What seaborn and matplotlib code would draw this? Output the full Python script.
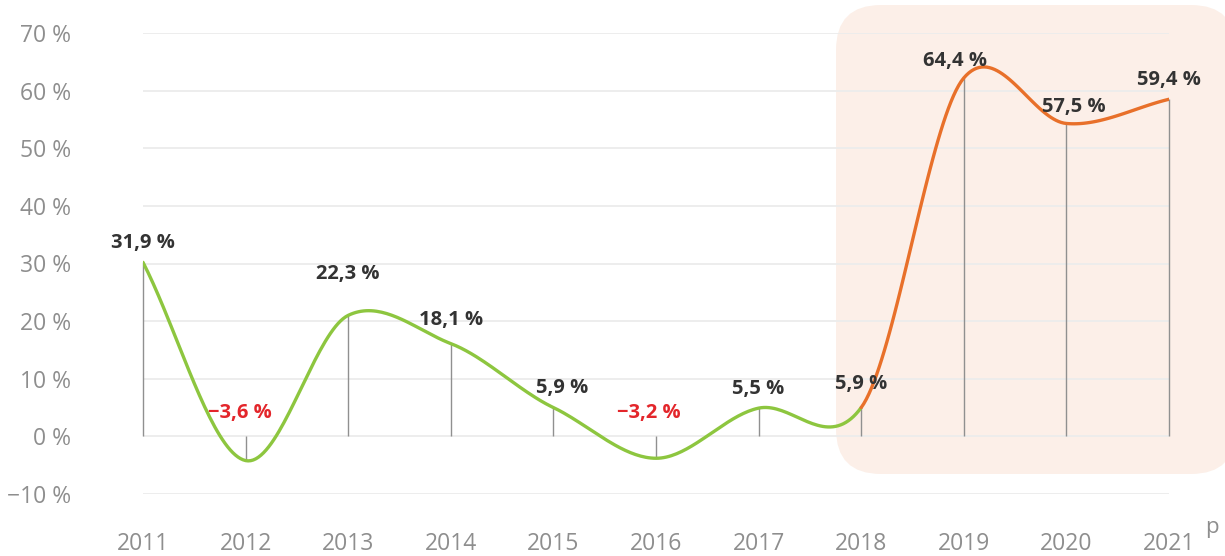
import numpy as np
import pandas as pd
import matplotlib
matplotlib.use("Agg")
import matplotlib.pyplot as plt
import seaborn as sns
from matplotlib.patches import FancyBboxPatch

# data
years = [2011, 2012, 2013, 2014, 2015, 2016, 2017, 2018, 2019, 2020, 2021]
# curve heights as drawn in the picture
growth = [30.2, -4.2, 21.0, 16.1, 5.0, -3.8, 4.9, 5.0, 62.2, 54.3, 58.5]
# printed labels
label_text = ["31,9 %", "-3,6 %", "22,3 %", "18,1 %", "5,9 %", "-3,2 %",
              "5,5 %", "5,9 %", "64,4 %", "57,5 %", "59,4 %"]
ytick_vals = [-10, 0, 10, 20, 30, 40, 50, 60, 70]
ytick_labels = ["\u221210 %", "0 %", "10 %", "20 %", "30 %", "40 %",
                "50 %", "60 %", "70 %"]
split_year = 2018

GREEN = "#8dc63f"
ORANGE = "#e8702a"
HILITE = "#fcefe8"
TXT = "#333333"
RED = "#e3262b"
TICK = "#8e8e8e"

W, H = 1225, 556

sns.set_theme(style="white")
plt.rcParams['font.family'] = ['Open Sans', 'DejaVu Sans']


def smooth(xs, ys, n=40, tension=0.85):
    # cubic hermite with catmull-rom tangents, only for drawing the curve
    xs = np.asarray(xs, float); ys = np.asarray(ys, float)
    m = np.zeros_like(ys)
    m[1:-1] = (ys[2:] - ys[:-2]) / (xs[2:] - xs[:-2]) * tension
    m[0] = ys[1] - ys[0]
    m[-1] = ys[-1] - ys[-2]
    out_x, out_y = [], []
    for i in range(len(xs) - 1):
        h = xs[i + 1] - xs[i]
        t = np.linspace(0, 1, n, endpoint=False)
        h00 = 2*t**3 - 3*t**2 + 1
        h10 = t**3 - 2*t**2 + t
        h01 = -2*t**3 + 3*t**2
        h11 = t**3 - t**2
        out_x.extend(xs[i] + t*h)
        out_y.extend(h00*ys[i] + h10*h*m[i] + h01*ys[i+1] + h11*h*m[i+1])
    out_x.append(xs[-1]); out_y.append(ys[-1])
    return np.array(out_x), np.array(out_y)


cx, cy = smooth(years, growth)
curve = pd.DataFrame({"year": cx, "value": cy})

fig = plt.figure(figsize=(W/100, H/100), dpi=100)
ax = fig.add_axes([143/W, 62/H, 1026/W, 461/H])
ax.set_facecolor("none")

# highlighted forecast zone, placed in figure space so the corners stay round
hl = FancyBboxPatch((836/W, 82/H), 400/W, 469/H,
                    boxstyle="round,pad=0,rounding_size=%f" % (45/W),
                    mutation_aspect=W/H, transform=fig.transFigure,
                    facecolor=HILITE, edgecolor="none", zorder=0,
                    clip_on=False)
ax.add_patch(hl)

# drop lines from zero to the curve
ax.vlines(years, [min(0, v) for v in growth], [max(0, v) for v in growth],
          color="#909090", lw=1, zorder=2, clip_on=False)

hist = curve[curve["year"] <= split_year]
proj = curve[curve["year"] >= split_year - 0.001]
sns.lineplot(data=hist, x="year", y="value", color=GREEN, lw=2.4, ax=ax,
             zorder=3, sort=False, estimator=None)
sns.lineplot(data=proj, x="year", y="value", color=ORANGE, lw=2.4, ax=ax,
             zorder=3, sort=False, estimator=None)

# value labels
extra_dy = {2013: 16, 2014: 3, 2018: 3, 2019: -2, 2020: -2}
extra_dx = {2012: -4, 2015: 6, 2016: -5, 2019: -6, 2020: 5}
for yr, v, s in zip(years, growth, label_text):
    neg = s.startswith("-")
    base = 0 if neg else v
    dy = (17 if neg else 14) + extra_dy.get(yr, 0)
    ax.annotate(s.replace("-", "\u2212"), xy=(yr, base),
                xytext=(extra_dx.get(yr, 0), dy), textcoords="offset points",
                ha="center", va="center", fontsize=14.5, fontweight="bold",
                color=RED if neg else TXT, zorder=5, annotation_clip=False)

ax.set_xlim(2011, 2021)
ax.set_ylim(-10, 70)
ax.set_yticks(ytick_vals)
ax.set_yticklabels(ytick_labels)
ax.set_xticks(years)
ax.set_xticklabels([str(y) for y in years])
ax.tick_params(axis="y", length=0, pad=52, labelsize=16.5, labelcolor=TICK)
ax.tick_params(axis="x", length=0, pad=27, labelsize=16.5, labelcolor=TICK)
ax.grid(axis="y", color="#ececec", lw=1.3)
ax.grid(axis="x", visible=False)
ax.set_axisbelow(True)
for sp in ax.spines.values():
    sp.set_visible(False)
ax.set_xlabel("")
ax.set_ylabel("")

ax.annotate("p", xy=(2021, -10), xytext=(31, -24), textcoords="offset points",
            ha="center", va="center", fontsize=16, color=TICK,
            annotation_clip=False)

fig.savefig("out.png", dpi=100)
